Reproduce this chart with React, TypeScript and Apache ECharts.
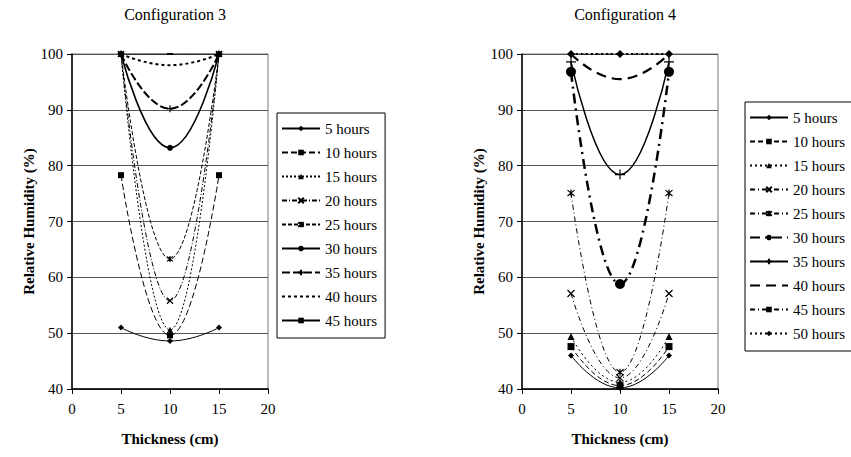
import React, { useEffect, useRef } from "react";
import * as echarts from "echarts";

// ---------- data ----------
const thickness = [5, 10, 15];
const xTicks = [0, 5, 10, 15, 20];
const yTicks = [40, 50, 60, 70, 80, 90, 100];

const names3 = ["5 hours", "10 hours", "15 hours", "20 hours", "25 hours", "30 hours", "35 hours", "40 hours", "45 hours"];
const c3_5h = [51.0, 48.6, 51.0];
const c3_10h = [78.3, 49.6, 78.3];
const c3_15h = [100, 50.6, 100];
const c3_20h = [100, 55.8, 100];
const c3_25h = [100, 63.3, 100];
const c3_30h = [100, 83.2, 100];
const c3_35h = [100, 90.2, 100];
const c3_40h = [100, 98.0, 100];
const c3_45h = [100, 100, 100];
const values3 = [c3_5h, c3_10h, c3_15h, c3_20h, c3_25h, c3_30h, c3_35h, c3_40h, c3_45h];

const names4 = ["5 hours", "10 hours", "15 hours", "20 hours", "25 hours", "30 hours", "35 hours", "40 hours", "45 hours", "50 hours"];
const c4_5h = [46.0, 40.2, 46.0];
const c4_10h = [47.6, 40.6, 47.6];
const c4_15h = [49.4, 41.2, 49.4];
const c4_20h = [57.1, 42.0, 57.1];
const c4_25h = [75.1, 43.0, 75.1];
const c4_30h = [96.8, 58.8, 96.8];
const c4_35h = [98.6, 78.4, 98.6];
const c4_40h = [100, 95.5, 100];
const c4_45h = [100, 100, 100];
const c4_50h = [100, 100, 100];
const values4 = [c4_5h, c4_10h, c4_15h, c4_20h, c4_25h, c4_30h, c4_35h, c4_40h, c4_45h, c4_50h];

// ---------- styles ----------
const SYM_X = "path://M0,0L10,10M10,0L0,10";
const SYM_STAR = "path://M0,0L10,10M10,0L0,10M5,-1L5,11";
const SYM_PLUS = "path://M5,0L5,10M0,5L10,5";

type St = { sym: string; size: number | number[]; w: number; dash: any };

const styles3: St[] = [
  { sym: "diamond", size: 6, w: 1, dash: "solid" },
  { sym: "rect", size: 6, w: 1, dash: [6, 3] },
  { sym: "triangle", size: 6, w: 1, dash: [2, 2] },
  { sym: SYM_X, size: 6, w: 1, dash: [5, 2, 1, 2] },
  { sym: SYM_STAR, size: 6, w: 1, dash: [4, 2] },
  { sym: "circle", size: 6, w: 1.6, dash: "solid" },
  { sym: SYM_PLUS, size: 7, w: 2, dash: [8, 3] },
  { sym: "none", size: 0, w: 2, dash: [3, 3] },
  { sym: "rect", size: [6, 2], w: 1, dash: "solid" },
];

const styles4: St[] = [
  { sym: "diamond", size: 6, w: 1, dash: "solid" },
  { sym: "rect", size: 7, w: 1, dash: [5, 3] },
  { sym: "triangle", size: 7, w: 1, dash: [2, 3] },
  { sym: SYM_X, size: 7, w: 1, dash: [5, 3, 1, 3] },
  { sym: SYM_STAR, size: 7, w: 1, dash: [5, 3, 1, 3] },
  { sym: "circle", size: 10, w: 2.5, dash: [10, 5, 2, 5] },
  { sym: SYM_PLUS, size: 10, w: 1.5, dash: "solid" },
  { sym: "none", size: 0, w: 2.2, dash: [10, 6] },
  { sym: "rect", size: [6, 2], w: 1, dash: [5, 3, 1, 3] },
  { sym: "diamond", size: 8, w: 2, dash: [2, 3] },
];

const FONT = "Liberation Serif";

function buildOption(title: string, names: string[], values: number[][], styles: St[], gridLeft: number, legendLeft: number, legendTop: number) {
  const series = names.map((name, i) => {
    const s = styles[i];
    const isPath = s.sym.startsWith("path://");
    const none = s.sym === "none";
    return {
      type: "line",
      name,
      data: thickness.map((x, j) => [x, values[i][j]]),
      smooth: true,
      symbol: none ? "circle" : s.sym,
      symbolSize: none ? 1 : s.size,
      showSymbol: !none,
      lineStyle: { color: "#000", width: s.w, type: s.dash },
      itemStyle: none
        ? { color: "rgba(0,0,0,0)", borderColor: "rgba(0,0,0,0)", borderWidth: 0 }
        : isPath
        ? { color: "#000", borderColor: "#000", borderWidth: 1.2 }
        : { color: "#000", borderColor: "#000", borderWidth: 0 },
      emphasis: { disabled: true },
    };
  });
  return {
    animation: false,
    backgroundColor: "#fff",
    textStyle: { fontFamily: FONT, color: "#000" },
    title: {
      text: title,
      left: gridLeft + 98,
      textAlign: "center",
      top: 1,
      textStyle: { fontFamily: FONT, fontSize: 16, fontWeight: "normal", color: "#000" },
    },
    legend: {
      orient: "vertical",
      left: legendLeft,
      top: legendTop,
      data: names,
      borderColor: "#000",
      borderWidth: 1,
      backgroundColor: "#fff",
      padding: [7, 8, 9, 4],
      itemGap: 7,
      itemWidth: 38,
      itemHeight: 7,
      selectedMode: false,
      textStyle: { fontFamily: FONT, fontSize: 15, color: "#000", lineHeight: 17 },
    },
    grid: {
      left: gridLeft,
      top: 54,
      width: 196,
      height: 335,
      show: true,
      borderColor: "#777",
      borderWidth: 1,
      backgroundColor: "transparent",
    },
    xAxis: {
      type: "value",
      min: xTicks[0],
      max: xTicks[xTicks.length - 1],
      interval: 5,
      name: "Thickness (cm)",
      nameLocation: "middle",
      nameGap: 42,
      nameTextStyle: { fontFamily: FONT, fontSize: 15, fontWeight: "bold", color: "#000" },
      axisLine: { show: true, lineStyle: { color: "#000", width: 1.5 } },
      axisTick: { show: true, length: 5, lineStyle: { color: "#000" } },
      axisLabel: { fontFamily: FONT, fontSize: 15, color: "#000", margin: 12 },
      splitLine: { show: false },
    },
    yAxis: {
      type: "value",
      min: yTicks[0],
      max: yTicks[yTicks.length - 1],
      interval: 10,
      name: "Relative Humidity (%)",
      nameLocation: "middle",
      nameGap: 25,
      nameTextStyle: { fontFamily: FONT, fontSize: 15, fontWeight: "bold", color: "#000" },
      axisLine: { show: true, lineStyle: { color: "#000", width: 1.5 } },
      axisTick: { show: true, length: 5, lineStyle: { color: "#000" } },
      axisLabel: { fontFamily: FONT, fontSize: 15, color: "#000", margin: 9 },
      splitLine: { show: true, lineStyle: { color: "#555", width: 1 } },
    },
    series,
  };
}

function Chart({ option, style }: { option: any; style: React.CSSProperties }) {
  const ref = useRef<HTMLDivElement>(null);
  useEffect(() => {
    if (!ref.current) return;
    const chart = echarts.init(ref.current, undefined, { renderer: "svg" });
    chart.setOption(option);
    return () => chart.dispose();
  }, [option]);
  return <div ref={ref} style={style} />;
}

const option3 = buildOption("Configuration 3", names3, values3, styles3, 72, 277, 113);
const option4 = buildOption("Configuration 4", names4, values4, styles4, 97, 320, 102);

export default function App() {
  return (
    <div style={{ position: "absolute", left: 0, top: 0, width: 851, height: 457, background: "#fff", overflow: "hidden" }}>
      <Chart option={option3} style={{ position: "absolute", left: 0, top: 0, width: 425, height: 457, overflow: "hidden" }} />
      <Chart option={option4} style={{ position: "absolute", left: 425, top: 0, width: 426, height: 457, overflow: "hidden" }} />
    </div>
  );
}
